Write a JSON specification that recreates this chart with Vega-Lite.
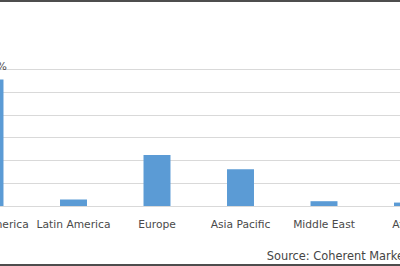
{
  "$schema": "https://vega.github.io/schema/vega-lite/v6.json",
  "autosize": {"type": "none"},
  "padding": {"left": -51.75, "right": -49.25, "top": 1, "bottom": 1},
  "width": 501,
  "height": 264,
  "background": "white",
  "config": {"view": {"stroke": "#4d4d4d", "strokeWidth": 2}},
  "title": {
    "text": "Source: Coherent Market Insights",
    "orient": "bottom",
    "anchor": "start",
    "frame": "group",
    "dx": 318.5,
    "offset": -5.5,
    "font": "DejaVu Sans",
    "fontSize": 11.4,
    "fontWeight": "normal",
    "color": "#454545",
    "baseline": "alphabetic"
  },
  "data": {
    "values": [
      {"region": "North America", "share": 55.4, "label": "55.4%"},
      {"region": "Latin America", "share": 2.9, "label": "2.9%"},
      {"region": "Europe", "share": 22.3, "label": "22.3%"},
      {"region": "Asia Pacific", "share": 16.1, "label": "16.1%"},
      {"region": "Middle East", "share": 2.1, "label": "2.1%"},
      {"region": "Africa", "share": 1.5, "label": "1.5%"}
    ]
  },
  "encoding": {
    "x": {
      "field": "region",
      "type": "nominal",
      "sort": null,
      "scale": {"paddingInner": 0.677, "paddingOuter": 0.3385},
      "axis": {
        "title": null,
        "labelAngle": 0,
        "ticks": false,
        "domain": false,
        "grid": false,
        "offset": -46,
        "labelPadding": 0,
        "labelFont": "DejaVu Sans",
        "labelFontSize": 10.7,
        "labelColor": "#4a4a4a",
        "labelOverlap": false,
        "labelBound": false,
        "labelLimit": 0
      }
    },
    "y": {
      "field": "share",
      "type": "quantitative",
      "scale": {"domain": [-25.84, 89.78], "nice": false, "zero": false},
      "axis": {
        "values": [0, 10, 20, 30, 40, 50, 60],
        "labels": false,
        "ticks": false,
        "domain": false,
        "title": null,
        "grid": true,
        "gridColor": "#d9d9d9",
        "gridWidth": 1
      }
    }
  },
  "layer": [
    {"mark": {"type": "bar", "color": "#5b9bd5"}},
    {
      "transform": [{"filter": "datum.share > 50"}],
      "mark": {"type": "text", "dy": -10, "baseline": "alphabetic", "font": "DejaVu Sans", "fontSize": 10.7, "color": "#4a4a4a"},
      "encoding": {"text": {"field": "label"}}
    }
  ]
}
